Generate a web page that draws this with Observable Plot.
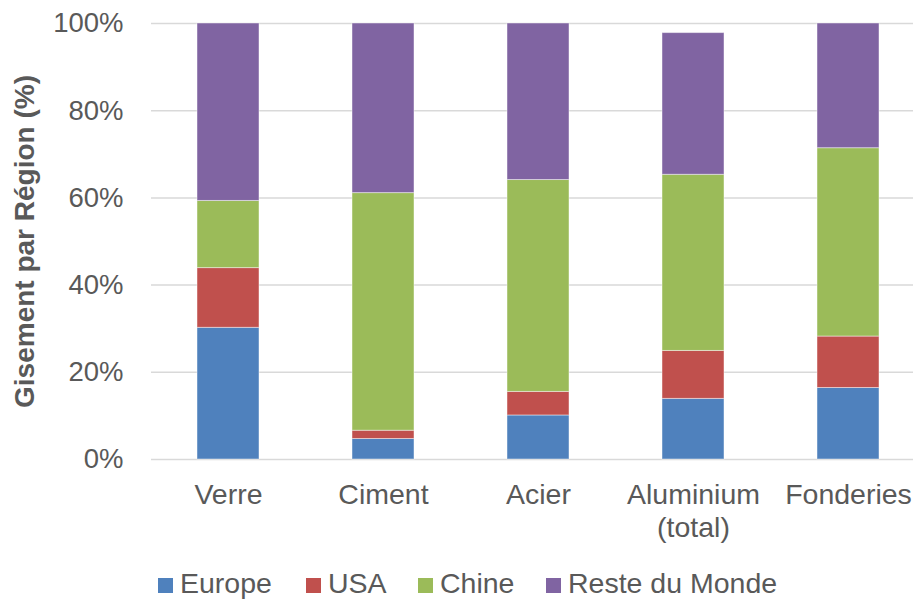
<!DOCTYPE html>
<html>
<head>
<meta charset="utf-8">
<script src="https://cdn.jsdelivr.net/npm/d3@7"></script>
<script src="https://cdn.jsdelivr.net/npm/@observablehq/plot@0.6"></script>
<style>
  html, body { margin: 0; padding: 0; background: #fff; }
  body { position: relative; width: 913px; height: 599px; overflow: hidden; font-family: "Liberation Sans", Arial, sans-serif; }
  #legend { position: absolute; left: 0; top: 569px; width: 913px; height: 30px; }
  .item { position: absolute; top: 0; font-size: 28.5px; color: #595959; line-height: 28px; white-space: nowrap; }
  .sw { display: inline-block; width: 15px; height: 15px; margin-right: 7px; }
</style>
</head>
<body>
<div id="chart"></div>
<div id="legend"></div>
<script>
const categories = ["Verre", "Ciment", "Acier", "Aluminium (total)", "Fonderies"];
const tickLabels = ["Verre", "Ciment", "Acier", "Aluminium\n(total)", "Fonderies"];
const seriesNames = ["Europe", "USA", "Chine", "Reste du Monde"];
const seriesColors = ["#4F81BD", "#C0504D", "#9BBB59", "#8064A2"];
const europe = [30.2, 4.7, 10.1, 13.9, 16.4];
const usa = [13.7, 1.9, 5.4, 11.0, 11.8];
const chine = [15.4, 54.5, 48.6, 40.4, 43.2];
const reste = [40.7, 38.9, 35.9, 32.5, 28.6];
const yTicks = [0, 0.2, 0.4, 0.6, 0.8, 1.0];

const seriesValues = [europe, usa, chine, reste];
const rows = [];
seriesNames.forEach((s, si) => {
  categories.forEach((c, ci) => {
    rows.push({category: c, series: s, value: seriesValues[si][ci] / 100});
  });
});

const font = "'Liberation Sans', Arial, sans-serif";
const chart = Plot.plot({
  width: 913,
  height: 556,
  marginLeft: 151,
  marginRight: 0,
  marginTop: 23,
  marginBottom: 97,
  style: {fontFamily: font, color: "#595959", background: "white"},
  x: {domain: categories, range: [150.5, 925.5], paddingInner: 0.6, paddingOuter: 0.3, label: null},
  y: {domain: [0, 1], label: null},
  color: {domain: seriesNames, range: seriesColors},
  marks: [
    Plot.gridY(yTicks, {stroke: "#d9d9d9", strokeOpacity: 1, strokeWidth: 1.5}),
    Plot.barY(rows, {x: "category", y: "value", fill: "series", stroke: "white", strokeOpacity: 0.45, strokeWidth: 1}),
    Plot.axisY(yTicks, {
      tickSize: 0, tickPadding: 28, fontSize: 27.5, fill: "#595959",
      tickFormat: d3.format(".0%"),
      label: "Gisement par Région (%)", labelAnchor: "center", labelArrow: "none", labelOffset: 137
    }),
    Plot.axisX({
      tickSize: 0, tickPadding: 21, fontSize: 28.5, fill: "#595959", lineHeight: 1.15,
      tickFormat: (d) => tickLabels[categories.indexOf(d)], label: null
    })
  ]
});
document.getElementById("chart").appendChild(chart);
d3.select(chart).selectAll("g[aria-label='y-axis label'] text")
  .style("font-weight", "bold").style("font-size", "28px");

const legendX = [158, 306, 418, 546];
const legend = document.getElementById("legend");
seriesNames.forEach((s, i) => {
  const it = document.createElement("div");
  it.className = "item";
  it.style.left = legendX[i] + "px";
  it.innerHTML = `<span class="sw" style="background:${seriesColors[i]}"></span>${s}`;
  legend.appendChild(it);
});
</script>
</body>
</html>
